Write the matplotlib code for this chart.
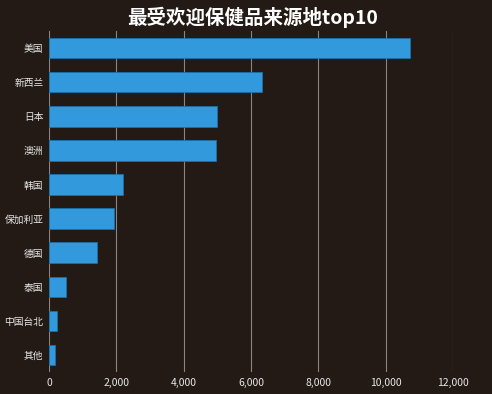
import matplotlib.pyplot as plt
from matplotlib.ticker import FuncFormatter

plt.rcParams['font.family'] = ['Noto Sans CJK SC', 'DejaVu Sans']

# 数据
countries = ["美国", "新西兰", "日本", "澳洲", "韩国", "保加利亚", "德国", "泰国", "中国台北", "其他"]
values = [10720, 6320, 4990, 4960, 2200, 1920, 1430, 500, 240, 180]

bg = "#231a15"
fig = plt.figure(figsize=(4.92, 3.94), dpi=100, facecolor=bg)
ax = fig.add_axes([0.0996, 0.0558, 0.8211, 0.8652], facecolor=bg)

ypos = range(len(countries))
ax.barh(ypos, values, height=0.6, color="#3399dd", edgecolor="#1f6fa5", linewidth=0.6, zorder=3)
ax.set_yticks(list(ypos))
ax.set_yticklabels(countries)
ax.set_ylim(len(countries) - 0.5, -0.5)
ax.set_xlim(0, 12000)
ax.set_xticks(range(0, 12001, 2000))
ax.xaxis.set_major_formatter(FuncFormatter(lambda v, p: f"{int(v):,}"))

ax.grid(axis="x", color="#8a8580", linewidth=0.8, zorder=0)
for s in ax.spines.values():
    s.set_visible(False)
ax.tick_params(axis="y", length=0, colors="#e8e8e8", labelsize=7, pad=4)
ax.tick_params(axis="x", length=0, colors="#e8e8e8", labelsize=7.5, pad=4)

fig.suptitle("最受欢迎保健品来源地top10", color="white", fontsize=14,
             fontweight="bold", x=0.513, y=0.982)

fig.savefig("out.png", dpi=100, facecolor=bg)
